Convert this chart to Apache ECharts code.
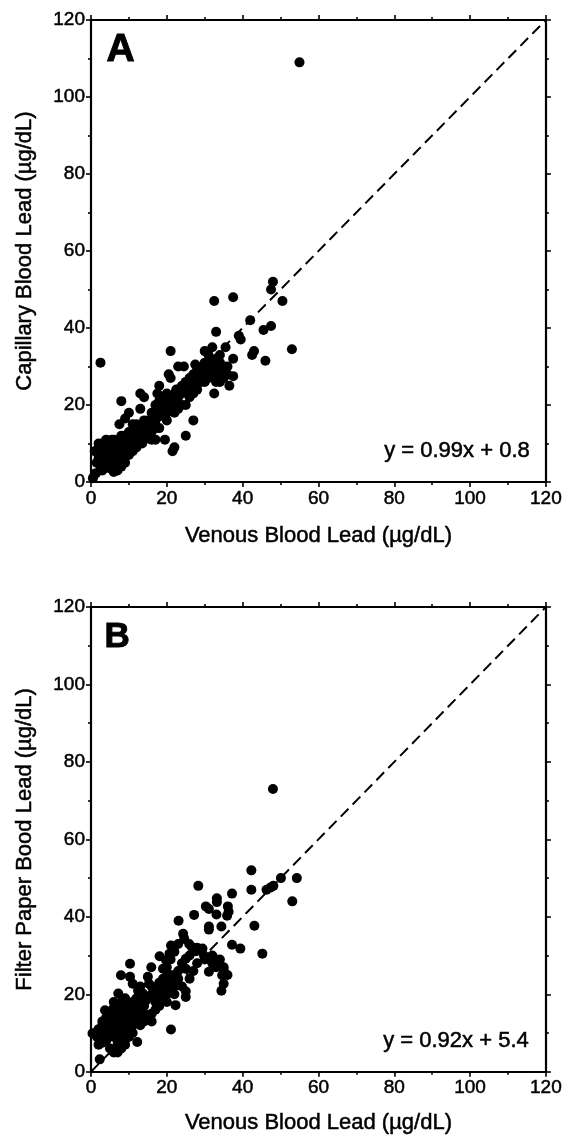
<!DOCTYPE html>
<html>
<head>
<meta charset="utf-8">
<script src="https://cdn.jsdelivr.net/npm/echarts@6/dist/echarts.min.js"></script>
<style>
  html, body { margin: 0; padding: 0; background: #fff; }
  #chart { width: 565px; height: 1135px; }
</style>
</head>
<body>
<div id="chart"></div>
<script>
// ---- Data ----
const axisTicks = [0, 20, 40, 60, 80, 100, 120];
const xTitle = 'Venous Blood Lead (µg/dL)';
const yTitleA = 'Capillary Blood Lead (µg/dL)';
const yTitleB = 'Filter Paper Bood Lead (µg/dL)';
const equationA = 'y = 0.99x + 0.8';
const equationB = 'y = 0.92x + 5.4';
const identityLine = [[0, 0], [120, 120]];

// Panel A: [venous, capillary]
const panelA = [
  [55,109],[2.5,31],[48,52],[47.5,50],[50.5,47],[37.5,48],[32.5,47],[33,39],[42,42],[39,38],[39.5,37],[45.5,39.5],[47.5,40.5],[42.5,33],[43,34],[46,31.5],[53,34.5],[30,34],[35.5,35],[37.5,32],[37.5,27.5],[36.5,25],[32.5,23],[29,26],[27.5,30.5],[21,34],[20.5,28],[23,30],[24.5,30],[21,27],[22.5,24],[25,23.5],[27,23],[25,20],[27,16],[25,12],[22,9],[21.5,8],[20,18],[18,25],[17.5,23],[13,23],[14,22],[13,19],[8,21],[10,18],[9,16.5],[7.5,15],[19.5,11],[17,11],
  [30,29],[31,31],[31,27],[32,30],[32,28],[33,32],[33,29],[33,26],[34,31],[34,28],[35,30],[35,27],[31,33],[32,35],[30,31],[29,28],[28,27],[36,30],[34,33],[31.5,29.5],[33,30.5],[28,29],[36,28],[34,26],[30,26],
  [10,10],[11,11],[11,12.5],[12,11],[12,13],[13,12],[13,14],[14,13],[14,11],[15,12],[15,14],[15.5,13],[16,15],[16,13],[17,14],[17,16],[18,17],[18,19],[19,18],[19,20],[20,21],[20,19],[21,20],[21,22],[22,21],[22,23],[23,22],[23,24],[24,23],[24,25],[25,24],[25,26],[26,25],[26,27],[27,26],[27,28],[28,30],[15,16],[13.5,10],[12,9],[16,11],[18,14],[19,22],[20,23],[20,16],[22,18],[23,19],[24,20],[26,22],[28,24],[10,13],[11,15],[9,12],[12,15],[14,16],[16,18],[17,20],[18,21],
  [0.5,1],[1,2],[1.5,5],[1,8],[2,7],[2,9],[2,10],[2.5,4],[3,3],[3,6],[3,8],[3,10],[3.5,7],[4,5],[4,9],[4,11],[4,7.5],[4.5,6],[4.5,8],[5,3.5],[5,7],[5,10],[5.5,5],[5.5,9],[5.5,11],[6,2.6],[6,6],[6,8],[6,9.5],[6,11],[6.5,4],[6.5,7],[7,3],[7,9],[7,6],[7.5,8],[7.5,5],[7.5,11],[8,7],[8,10],[8,12],[8,4],[8.5,6],[9,8],[9,5],[9,10],[9.5,10],[10,7],[10,9],[10.5,12],[11,8],[1.3,2.3],[2,6],[3.5,9],[5,8.5],[6.5,10],[8.5,9]
];

// Panel B: [venous, filter paper]
const panelB = [
  [48,73],[42.3,52],[42.3,47],[28.3,48],[37.2,46],[33.2,44.8],[33.2,43.8],[36.1,42.7],[36.3,41.3],[35.9,40.3],[30.3,42.7],[31.1,42],[33.1,40.6],[27.2,40.5],[23.1,39],[31.1,37.5],[31.1,36.7],[34.4,37.5],[43.1,37.7],[37.2,32.8],[39.4,31.8],[45.2,30.5],[46.3,47],[47.4,47.6],[48.1,48],[50.1,50],[54.3,50],[53.1,44],[24.3,35.6],[24.6,34.3],[25.9,33],[26.6,32.2],[27.7,31.1],[29.4,31.8],[29.8,30],[31.6,29.6],[32.9,28.8],[33.7,27.5],[34.6,27],[35,26.2],[34.6,24.9],[31.1,25.8],[35,22.7],[34.4,20.9],[25,29.2],[25,26.6],[21.1,32.6],[20.7,30.5],[18.1,29.8],[19.8,28.8],[19,26.6],[20.3,25.3],[15.9,27],[22.3,24.9],[25,20.8],[25,19.3],[22.3,17.2],[21.1,10.9],[7.9,24.9],[10.3,24.5],[11,22.7],[10.3,27.9],[7.2,20.2],[12.4,21],[13.7,20.2],[14.6,18.5],[15,24.5],[15.3,22.7],[9.4,17.2],[10.3,15],[3.7,15.9],[5.9,16.3],[12.2,7.7],[2.3,3.2],[0.4,9.9],[1.6,9],[2.4,8.2],
  [32,28],[33,29],[34,29],[35,27],[33,27],[36,25],[30,29],[32,30],
  [13,12],[14,13],[15,14],[16,15],[16,13],[17,16],[17,18],[18,17],[18,20],[19,19],[19,21],[20,22],[20,20],[21,21],[21,23],[22,22],[22,25],[23,24],[23,26],[17,21],[16,20],[15,19],[14,17],[13,15],[12,14],[12,17],[11,16],[13,19],[18,23],[19,24],[20,27],[21,29],[22,31],[23,33],[16,22],[14,15],[20,18],[22,20],[24,22],[26,24],[27,26],[28,28],[24,28],[26,30],[28,32],
  [1,10],[2,11],[2,7],[3,9],[3,12],[3,13],[4,10],[4,8],[4,14],[5,11],[5,6],[5,13],[5,15],[6,9],[6,12],[6,14],[6,5],[7,10],[7,7],[7,13],[7,15],[7,5],[8,11],[8,8],[8,14],[8,6],[9,10],[9,12],[9,13],[9,7],[10,11],[10,9],[10,13],[11,10],[11,12],[11,14],[8,16],[9,15],[6,10.5],[4,12],[3,7.5],[5,9.5],[7,11.5],[10,16],[11,18],[9,19],[8,18],[12,19],[13,22],[6,18],[7,17]
];

// ---- Chart ----
const FONT = "'Liberation Sans', Arial, Helvetica, sans-serif";
const axMin = axisTicks[0], axMax = axisTicks[axisTicks.length - 1];
const axInt = axisTicks[1] - axisTicks[0];
const INK = { textBorderColor: '#000', textBorderWidth: 0.5 };

function makeAxis(kind, grid, pos, showLabels, name, nameGap) {
  const a = {
    type: 'value', gridIndex: grid, position: pos,
    min: axMin, max: axMax, interval: axInt,
    splitLine: { show: false },
    axisLine: { show: true, onZero: false, lineStyle: { color: '#000', width: 2.2 } },
    axisTick: { show: true, inside: false, length: 5, lineStyle: { color: '#000', width: 1.6 } },
    minorTick: { show: true, splitNumber: 2, length: 3, lineStyle: { color: '#000', width: 1.6 } },
    axisLabel: Object.assign({ show: showLabels, color: '#000', fontSize: 19, fontFamily: FONT,
                 margin: kind === 'x' ? 7 : 6 }, INK)
  };
  if (name) {
    a.name = name; a.nameLocation = 'middle'; a.nameGap = nameGap;
    a.nameTextStyle = Object.assign({ color: '#000', fontSize: 22, fontFamily: FONT }, INK);
  }
  return a;
}

const chart = echarts.init(document.getElementById('chart'), null, { renderer: 'canvas' });
chart.setOption({
  animation: false,
  backgroundColor: '#fff',
  grid: [
    { left: 91, top: 20, width: 460, height: 462 },
    { left: 91, top: 607, width: 459, height: 465 }
  ],
  xAxis: [
    makeAxis('x', 0, 'bottom', true, xTitle, 43),
    makeAxis('x', 0, 'top', false),
    makeAxis('x', 1, 'bottom', true, xTitle, 40),
    makeAxis('x', 1, 'top', false)
  ],
  yAxis: [
    makeAxis('y', 0, 'left', true, yTitleA, 55),
    makeAxis('y', 0, 'right', false),
    makeAxis('y', 1, 'left', true, yTitleB, 55),
    makeAxis('y', 1, 'right', false)
  ],
  series: [
    { type: 'line', xAxisIndex: 0, yAxisIndex: 0, data: identityLine, symbol: 'none',
      lineStyle: { color: '#000', width: 2, type: [11, 6] }, z: 1 },
    { type: 'scatter', xAxisIndex: 0, yAxisIndex: 0, data: panelA, symbolSize: 10,
      itemStyle: { color: '#000', opacity: 1 }, z: 2 },
    { type: 'line', xAxisIndex: 2, yAxisIndex: 2, data: identityLine, symbol: 'none',
      lineStyle: { color: '#000', width: 2, type: [11, 6] }, z: 1 },
    { type: 'scatter', xAxisIndex: 2, yAxisIndex: 2, data: panelB, symbolSize: 10,
      itemStyle: { color: '#000', opacity: 1 }, z: 2 }
  ],
  graphic: [
    { type: 'text', left: 106, top: 30, style: { text: 'A', fontSize: 39, fontWeight: 'bold', fontFamily: FONT, fill: '#000', stroke: '#000', lineWidth: 1 } },
    { type: 'text', left: 104, top: 619, style: { text: 'B', fontSize: 35, fontWeight: 'bold', fontFamily: FONT, fill: '#000', stroke: '#000', lineWidth: 1 } },
    { type: 'text', right: 35, top: 440, style: { text: equationA, fontSize: 22, fontFamily: FONT, fill: '#000', stroke: '#000', lineWidth: 0.5 } },
    { type: 'text', right: 36, top: 1030, style: { text: equationB, fontSize: 22, fontFamily: FONT, fill: '#000', stroke: '#000', lineWidth: 0.5 } }
  ]
});
</script>
</body>
</html>
